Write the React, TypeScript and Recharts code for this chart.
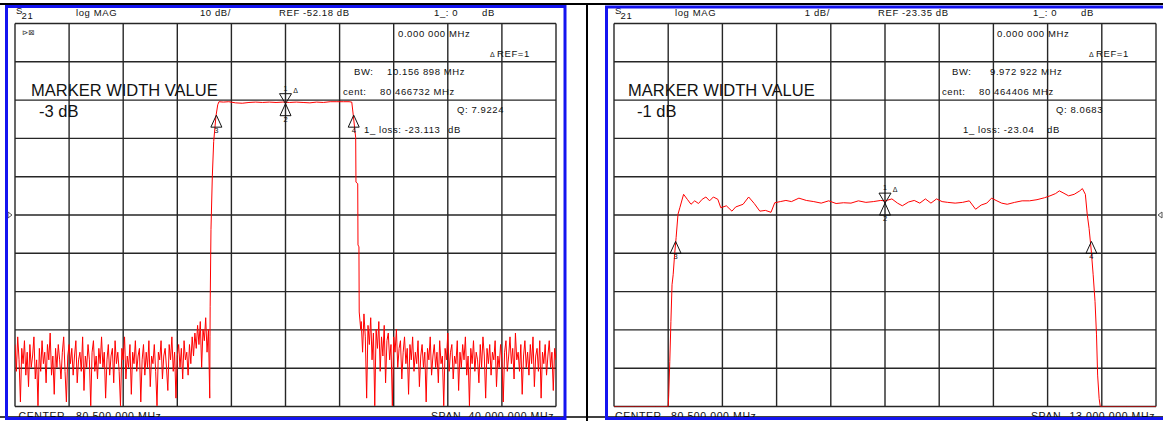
import { LineChart, Line, XAxis, YAxis, CartesianGrid, ReferenceDot } from "recharts";

type Pt = [number, number];

// ---------- left sweep: CENTER 80.5 MHz, SPAN 40 MHz, 10 dB/div, REF -52.18 dB ----------
const wideFreqTicks = [60.5, 64.5, 68.5, 72.5, 76.5, 80.5, 84.5, 88.5, 92.5, 96.5, 100.5];
const wideDbTicks = [-102.18, -92.18, -82.18, -72.18, -62.18, -52.18, -42.18, -32.18, -22.18, -12.18, -2.18];

const wideNoiseLow: Pt[] = [
  [60.5, -86], [60.6, -93], [60.7, -84], [60.8, -90], [60.9, -101], [61.0, -87], [61.1, -91],
  [61.2, -85], [61.3, -94], [61.4, -88], [61.5, -97], [61.6, -86], [61.7, -92], [61.8, -89],
  [61.9, -84], [62.0, -95], [62.1, -90], [62.2, -102], [62.3, -87], [62.4, -93], [62.5, -85],
  [62.6, -91], [62.7, -88], [62.8, -96], [62.9, -86], [63.0, -90], [63.1, -83], [63.2, -94],
  [63.3, -89], [63.4, -99], [63.5, -87], [63.6, -92], [63.7, -86], [63.8, -90], [63.9, -95],
  [64.0, -88], [64.1, -84], [64.2, -93], [64.3, -101], [64.4, -89], [64.5, -86], [64.6, -91],
  [64.7, -87], [64.8, -94], [64.9, -89], [65.0, -85], [65.1, -96], [65.2, -90], [65.3, -88],
  [65.4, -93], [65.5, -84], [65.6, -98], [65.7, -89], [65.8, -92], [65.9, -86], [66.0, -90],
  [66.1, -102], [66.2, -88], [66.3, -85], [66.4, -93], [66.5, -89], [66.6, -95], [66.7, -87],
  [66.8, -91], [66.9, -84], [67.0, -92], [67.1, -88], [67.2, -100], [67.3, -90], [67.4, -86],
  [67.5, -94], [67.6, -89], [67.7, -87], [67.8, -96], [67.9, -85], [68.0, -91], [68.1, -88],
  [68.2, -93], [68.3, -102], [68.4, -87], [68.5, -90], [68.6, -84], [68.7, -95], [68.8, -89],
  [68.9, -92], [69.0, -86], [69.1, -99], [69.2, -88], [69.3, -91], [69.4, -85], [69.5, -93],
  [69.6, -89], [69.7, -87], [69.8, -101], [69.9, -90], [70.0, -86], [70.1, -94], [70.2, -88],
  [70.3, -92], [70.4, -85], [70.5, -97], [70.6, -89], [70.7, -91], [70.8, -86], [70.9, -93],
  [71.0, -102], [71.1, -88], [71.2, -90], [71.3, -85], [71.4, -95], [71.5, -89], [71.6, -87],
  [71.7, -92], [71.8, -98], [71.9, -86], [72.0, -90], [72.1, -84], [72.2, -93], [72.3, -88],
  [72.4, -100], [72.5, -89], [72.6, -86], [72.7, -92], [72.8, -87], [72.9, -95], [73.0, -85],
  [73.1, -90], [73.2, -88], [73.3, -94], [73.4, -86], [73.5, -91], [73.6, -84], [73.7, -89],
  [73.8, -83], [73.9, -87], [74.0, -81], [74.1, -86], [74.2, -80], [74.3, -92], [74.4, -82],
  [74.5, -85], [74.6, -79], [74.7, -88], [74.8, -82], [74.9, -100],
];
const wideSkirtLow: Pt[] = [
  [74.918, -84], [74.93, -76], [74.99, -56], [75.09, -42], [75.19, -33], [75.36, -26.3],
  [75.49, -23.4],
];
const widePassband: Pt[] = [
  [75.58, -22.6], [75.9, -22.7], [76.3, -22.6], [76.8, -22.9], [77.3, -23.0], [77.8, -22.8],
  [78.3, -22.7], [78.8, -22.8], [79.3, -22.7], [79.8, -22.8], [80.3, -22.7], [80.8, -22.8],
  [81.3, -22.7], [81.8, -22.8], [82.3, -22.9], [82.8, -22.7], [83.3, -22.8], [83.8, -22.6],
  [84.3, -22.6], [84.8, -22.6], [85.2, -22.6], [85.4, -22.7],
];
const wideSkirtHigh: Pt[] = [
  [85.51, -26.1], [85.69, -32], [85.71, -43.6], [85.84, -44], [85.86, -60], [85.93, -60.5],
  [85.95, -77.5], [86.06, -82],
];
const wideNoiseHigh: Pt[] = [
  [86.1, -80], [86.2, -88], [86.3, -78], [86.4, -84], [86.5, -100], [86.6, -81], [86.7, -86],
  [86.8, -79], [86.9, -90], [87.0, -83], [87.1, -102], [87.2, -82], [87.3, -87], [87.4, -80],
  [87.5, -93], [87.6, -84], [87.7, -89], [87.8, -81], [87.9, -96], [88.0, -85], [88.1, -83],
  [88.2, -90], [88.3, -86], [88.4, -102], [88.5, -84], [88.6, -88], [88.7, -82], [88.8, -92],
  [88.9, -87], [89.0, -85], [89.1, -95], [89.2, -88], [89.3, -84], [89.4, -91], [89.5, -87],
  [89.6, -99], [89.7, -86], [89.8, -90], [89.9, -84], [90.0, -93], [90.1, -88], [90.2, -91],
  [90.3, -85], [90.4, -97], [90.5, -89], [90.6, -86], [90.7, -92], [90.8, -88], [90.9, -101],
  [91.0, -87], [91.1, -90], [91.2, -84], [91.3, -94], [91.4, -89], [91.5, -86], [91.6, -92],
  [91.7, -88], [91.8, -96], [91.9, -85], [92.0, -91], [92.1, -89], [92.2, -102], [92.3, -87],
  [92.4, -90], [92.5, -83], [92.6, -93], [92.7, -88], [92.8, -86], [92.9, -95], [93.0, -89],
  [93.1, -91], [93.2, -85], [93.3, -98], [93.4, -88], [93.5, -92], [93.6, -86], [93.7, -90],
  [93.8, -84], [93.9, -94], [94.0, -89], [94.1, -102], [94.2, -87], [94.3, -91], [94.4, -85],
  [94.5, -93], [94.6, -88], [94.7, -90], [94.8, -96], [94.9, -86], [95.0, -92], [95.1, -84],
  [95.2, -89], [95.3, -100], [95.4, -87], [95.5, -91], [95.6, -86], [95.7, -94], [95.8, -88],
  [95.9, -90], [96.0, -85], [96.1, -97], [96.2, -89], [96.3, -92], [96.4, -86], [96.5, -90],
  [96.6, -101], [96.7, -88], [96.8, -85], [96.9, -93], [97.0, -89], [97.1, -84], [97.2, -91],
  [97.3, -87], [97.4, -95], [97.5, -83], [97.6, -90], [97.7, -88], [97.8, -93], [97.9, -86],
  [98.0, -99], [98.1, -89], [98.2, -85], [98.3, -92], [98.4, -88], [98.5, -94], [98.6, -86],
  [98.7, -91], [98.8, -84], [98.9, -97], [99.0, -89], [99.1, -87], [99.2, -93], [99.3, -85],
  [99.4, -100], [99.5, -88], [99.6, -91], [99.7, -86], [99.8, -94], [99.9, -89], [100.0, -85],
  [100.1, -92], [100.2, -88], [100.3, -98], [100.4, -87], [100.5, -90],
];

// ---------- right sweep: CENTER 80.5 MHz, SPAN 13 MHz, 1 dB/div, REF -23.35 dB ----------
const narrowFreqTicks = [74, 75.3, 76.6, 77.9, 79.2, 80.5, 81.8, 83.1, 84.4, 85.7, 87];
const narrowDbTicks = [-28.35, -27.35, -26.35, -25.35, -24.35, -23.35, -22.35, -21.35, -20.35, -19.35, -18.35];

const narrowTrace: Pt[] = [
  [74.0, -28.35], [74.5, -28.35], [75.0, -28.35], [75.3, -28.35], [75.312, -28.06],
  [75.338, -27.18], [75.365, -26.13], [75.392, -25.17], [75.419, -24.91], [75.454, -24.38],
  [75.49, -23.94], [75.535, -23.33], [75.579, -23.16], [75.669, -22.81], [75.758, -22.94],
  [75.847, -23.07], [75.936, -22.98], [76.026, -23.05], [76.115, -22.94], [76.204, -22.88],
  [76.293, -22.98], [76.383, -22.88], [76.49, -22.94], [76.561, -23.16], [76.695, -23.11],
  [76.829, -23.25], [76.918, -23.14], [77.096, -23.07], [77.23, -22.88], [77.364, -23.05],
  [77.498, -23.25], [77.632, -23.23], [77.766, -23.28], [77.855, -23.03], [77.989, -23.0],
  [78.123, -22.97], [78.256, -23.0], [78.435, -22.91], [78.613, -22.97], [78.792, -23.0],
  [78.97, -23.04], [79.149, -22.98], [79.327, -23.05], [79.505, -23.03], [79.684, -23.04],
  [79.862, -22.98], [80.041, -23.02], [80.219, -23.0], [80.398, -22.97], [80.505, -22.98],
  [80.666, -22.93], [80.8, -23.04], [80.915, -23.11], [81.067, -23.01], [81.201, -22.97],
  [81.335, -23.04], [81.469, -22.93], [81.602, -23.04], [81.736, -22.93], [81.87, -23.0],
  [82.004, -23.02], [82.183, -23.04], [82.361, -23.02], [82.522, -22.98], [82.673, -23.2],
  [82.807, -23.09], [82.941, -23.04], [83.057, -22.91], [83.164, -22.97], [83.298, -23.04],
  [83.432, -23.07], [83.61, -23.02], [83.789, -22.98], [83.967, -22.98], [84.146, -22.95],
  [84.324, -22.9], [84.458, -22.85], [84.592, -22.79], [84.681, -22.72], [84.77, -22.77],
  [84.904, -22.85], [85.038, -22.81], [85.172, -22.72], [85.234, -22.66], [85.306, -22.81],
  [85.35, -23.33], [85.395, -23.7], [85.448, -24.29], [85.493, -24.91], [85.538, -25.61],
  [85.573, -26.48], [85.6, -27.53], [85.636, -28.14], [85.663, -28.35], [86.3, -28.35],
  [87.0, -28.35],
];

type Marker = { id: string; f: number; db: number; down?: boolean };

const wideMarkers: Marker[] = [
  { id: "1", f: 80.5, db: -23.113, down: true },
  { id: "2", f: 80.5, db: -23.113 },
  { id: "3", f: 75.388, db: -26.113 },
  { id: "4", f: 85.545, db: -26.113 },
];
const narrowMarkers: Marker[] = [
  { id: "1", f: 80.5, db: -23.04, down: true },
  { id: "2", f: 80.5, db: -23.04 },
  { id: "3", f: 75.478, db: -24.04 },
  { id: "4", f: 85.451, db: -24.04 },
];

type Txt = { x: number; y: number; text: string; size?: number; anchor?: "start" | "end"; spacing?: number };

const leftTexts: Txt[] = [
  { x: 16, y: 14, text: "S" },
  { x: 21.5, y: 18.5, text: "21" },
  { x: 76, y: 15.5, text: "log MAG" },
  { x: 231, y: 15.5, text: "10 dB/", anchor: "end" },
  { x: 279, y: 15.5, text: "REF -52.18 dB" },
  { x: 434, y: 15.5, text: "1_: 0" },
  { x: 482, y: 15.5, text: "dB" },
  { x: 398, y: 36.5, text: "0.000 000 MHz" },
  { x: 497, y: 56.5, text: "REF=1" },
  { x: 490, y: 56.5, text: "Δ", size: 7, spacing: 0 },
  { x: 354, y: 75, text: "BW:" },
  { x: 387, y: 75, text: "10.156 898 MHz" },
  { x: 343, y: 95, text: "cent:" },
  { x: 380, y: 95, text: "80 466732 MHz" },
  { x: 457, y: 113, text: "Q: 7.9224" },
  { x: 364, y: 133, text: "1_ loss: -23.113" },
  { x: 448, y: 133, text: "dB" },
  { x: 31, y: 95.5, text: "MARKER WIDTH VALUE", size: 16.5, spacing: 0 },
  { x: 39, y: 116.5, text: "-3 dB", size: 16.5, spacing: 0 },
  { x: 18.5, y: 419.5, text: "CENTER", size: 10.5 },
  { x: 76, y: 419.5, text: "80.500 000 MHz", size: 10.5 },
  { x: 431, y: 419.5, text: "SPAN", size: 10.5 },
  { x: 554, y: 419.5, text: "40.000 000 MHz", size: 10.5, anchor: "end" },
];

const rightTexts: Txt[] = [
  { x: 615, y: 14, text: "S" },
  { x: 620.5, y: 18.5, text: "21" },
  { x: 675, y: 15.5, text: "log MAG" },
  { x: 830, y: 15.5, text: "1 dB/", anchor: "end" },
  { x: 878, y: 15.5, text: "REF -23.35 dB" },
  { x: 1033, y: 15.5, text: "1_: 0" },
  { x: 1081, y: 15.5, text: "dB" },
  { x: 997, y: 36.5, text: "0.000 000 MHz" },
  { x: 1096, y: 56.5, text: "REF=1" },
  { x: 1089, y: 56.5, text: "Δ", size: 7, spacing: 0 },
  { x: 952, y: 75, text: "BW:" },
  { x: 990, y: 75, text: "9.972 922 MHz" },
  { x: 942, y: 95, text: "cent:" },
  { x: 979, y: 95, text: "80 464406 MHz" },
  { x: 1056, y: 113, text: "Q: 8.0683" },
  { x: 963, y: 133, text: "1_ loss: -23.04" },
  { x: 1047, y: 133, text: "dB" },
  { x: 628, y: 95.5, text: "MARKER WIDTH VALUE", size: 16.5, spacing: 0 },
  { x: 637, y: 116.5, text: "-1 dB", size: 16.5, spacing: 0 },
  { x: 615, y: 419.5, text: "CENTER", size: 10.5 },
  { x: 671, y: 419.5, text: "80.500 000 MHz", size: 10.5 },
  { x: 1031, y: 419.5, text: "SPAN", size: 10.5 },
  { x: 1155, y: 419.5, text: "13.000 000 MHz", size: 10.5, anchor: "end" },
];

const FONT = "'Liberation Sans', Arial, sans-serif";
const INK = "#111";
const TRACE = "#ff0000";
const BLUE = "#1414f0";

const toRows = (parts: Pt[][]) => parts.flat().map(([f, db]) => ({ f, db }));

function markerShape(m: Marker) {
  return (props: any) => {
    const { cx, cy } = props;
    if (m.down) {
      return (
        <g>
          <polygon points={`${cx},${cy} ${cx - 6},${cy - 10} ${cx + 6},${cy - 10}`} fill="none" stroke={INK} strokeWidth={1} />
          <text x={cx} y={cy - 13} fontSize={7} textAnchor="middle" fontFamily={FONT} fill={INK}>{m.id}</text>
          <text x={cx + 10} y={cy - 11} fontSize={7} textAnchor="middle" fontFamily={FONT} fill={INK}>Δ</text>
        </g>
      );
    }
    return (
      <g>
        <polygon points={`${cx},${cy} ${cx - 5.5},${cy + 12} ${cx + 5.5},${cy + 12}`} fill="none" stroke={INK} strokeWidth={1} />
        <text x={cx} y={cy + 18} fontSize={7.5} textAnchor="middle" fontFamily={FONT} fill={INK}>{m.id}</text>
      </g>
    );
  };
}

function refArrow(side: "left" | "right") {
  return (props: any) => {
    const { cx, cy } = props;
    const pts =
      side === "left"
        ? `${cx - 7},${cy - 3} ${cx - 3},${cy} ${cx - 7},${cy + 3}`
        : `${cx + 2},${cy} ${cx + 6},${cy - 3} ${cx + 6},${cy + 3}`;
    return <polygon points={pts} fill="none" stroke="#555" strokeWidth={1} />;
  };
}

interface PanelProps {
  left: number;
  width: number;
  margin: { top: number; right: number; bottom: number; left: number };
  data: { f: number; db: number }[];
  xTicks: number[];
  yTicks: number[];
  markers: Marker[];
  refLevel: number;
  refSide: "left" | "right";
}

function Panel({ left, width, margin, data, xTicks, yTicks, markers, refLevel, refSide }: PanelProps) {
  const xDomain: [number, number] = [xTicks[0], xTicks[xTicks.length - 1]];
  const yDomain: [number, number] = [yTicks[0], yTicks[yTicks.length - 1]];
  return (
    <div style={{ position: "absolute", left, top: 0 }}>
      <LineChart width={width} height={421} data={data} margin={margin}>
        <CartesianGrid stroke="#262626" strokeWidth={1.4} />
        <XAxis type="number" dataKey="f" domain={xDomain} ticks={xTicks} allowDataOverflow hide />
        <YAxis type="number" domain={yDomain} ticks={yTicks} allowDataOverflow hide />
        <Line
          type="linear"
          dataKey="db"
          stroke={TRACE}
          strokeWidth={1}
          dot={false}
          activeDot={false}
          isAnimationActive={false}
        />
        {markers.map((m) => (
          <ReferenceDot key={m.id} x={m.f} y={m.db} ifOverflow="visible" shape={markerShape(m)} />
        ))}
        <ReferenceDot
          x={refSide === "left" ? xDomain[0] : xDomain[1]}
          y={refLevel}
          ifOverflow="visible"
          shape={refArrow(refSide)}
        />
      </LineChart>
    </div>
  );
}

function Texts({ items }: { items: Txt[] }) {
  return (
    <>
      {items.map((t, i) => (
        <text
          key={i}
          x={t.x}
          y={t.y}
          fontSize={t.size ?? 9.5}
          textAnchor={t.anchor ?? "start"}
          letterSpacing={t.spacing ?? 0.6}
          fontFamily={FONT}
          fill={INK}
        >
          {t.text}
        </text>
      ))}
    </>
  );
}

export default function App() {
  return (
    <div style={{ position: "absolute", left: 0, top: 0, width: 1163, height: 421, background: "#fff", overflow: "hidden" }}>
      <Panel
        left={0}
        width={580}
        margin={{ top: 23.5, right: 24, bottom: 14.5, left: 15 }}
        data={toRows([wideNoiseLow, wideSkirtLow, widePassband, wideSkirtHigh, wideNoiseHigh])}
        xTicks={wideFreqTicks}
        yTicks={wideDbTicks}
        markers={wideMarkers}
        refLevel={-52.18}
        refSide="left"
      />
      <Panel
        left={580}
        width={583}
        margin={{ top: 23.5, right: 7, bottom: 14.5, left: 34 }}
        data={toRows([narrowTrace])}
        xTicks={narrowFreqTicks}
        yTicks={narrowDbTicks}
        markers={narrowMarkers}
        refLevel={-23.35}
        refSide="right"
      />
      <svg width={1163} height={421} style={{ position: "absolute", left: 0, top: 0, pointerEvents: "none" }}>
        <Texts items={leftTexts} />
        <Texts items={rightTexts} />
        <text x={22} y={35} fontSize={7.5} fontFamily="'DejaVu Sans', sans-serif" fill="#333">⊳⊠</text>
        {/* frame */}
        <line x1={0} y1={4} x2={1163} y2={4} stroke="#000" strokeWidth={2} />
        <line x1={587} y1={3} x2={587} y2={421} stroke="#000" strokeWidth={2} />
        <line x1={0} y1={417} x2={1163} y2={417} stroke="#000" strokeWidth={1.5} />
        <rect x={6.5} y={6.5} width={558.5} height={412} fill="none" stroke={BLUE} strokeWidth={3} />
        <rect x={606.5} y={7} width={570} height={411.5} fill="none" stroke={BLUE} strokeWidth={3} />
      </svg>
    </div>
  );
}
